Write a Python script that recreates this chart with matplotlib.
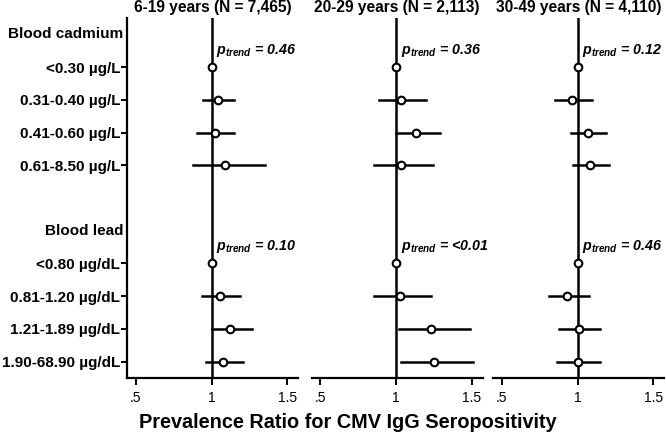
import numpy as np
import matplotlib
matplotlib.use('Agg')
import matplotlib.pyplot as plt

plt.rcParams.update({'font.family': 'Liberation Sans', 'mathtext.fontset': 'custom',
                     'mathtext.it': 'Liberation Sans:italic:bold',
                     'mathtext.rm': 'Liberation Sans:bold'})

### labels
headers = ['Blood cadmium', 'Blood lead']
header_rows = [0, 6]
row_labels = ['<0.30 µg/L', '0.31-0.40 µg/L', '0.41-0.60 µg/L', '0.61-8.50 µg/L',
              '<0.80 µg/dL', '0.81-1.20 µg/dL', '1.21-1.89 µg/dL', '1.90-68.90 µg/dL']
row_pos = [1, 2, 3, 4, 7, 8, 9, 10]

titles = ['6-19 years (N = 7,465)', '20-29 years (N = 2,113)', '30-49 years (N = 4,110)']

### prevalence ratios + 95% CI (reference group has no CI)
pr_6_19 = [1.0, 1.04, 1.02, 1.09, 1.0, 1.055, 1.12, 1.075]
lo_6_19 = [np.nan, 0.945, 0.905, 0.875, np.nan, 0.935, 1.0, 0.963]
hi_6_19 = [np.nan, 1.15, 1.15, 1.35, np.nan, 1.19, 1.27, 1.205]

pr_20_29 = [1.0, 1.033, 1.134, 1.033, 1.0, 1.024, 1.232, 1.25]
lo_20_29 = [np.nan, 0.885, 1.0, 0.856, np.nan, 0.852, 1.022, 1.033]
hi_20_29 = [np.nan, 1.199, 1.293, 1.243, np.nan, 1.228, 1.486, 1.51]

pr_30_49 = [1.0, 0.962, 1.069, 1.084, 1.0, 0.933, 1.007, 1.0]
lo_30_49 = [np.nan, 0.851, 0.958, 0.973, np.nan, 0.81, 0.88, 0.867]
hi_30_49 = [np.nan, 1.096, 1.191, 1.209, np.nan, 1.075, 1.151, 1.151]

p_cadmium = ['0.46', '0.36', '0.12']
p_lead = ['0.10', '<0.01', '0.46']

panels = [(pr_6_19, lo_6_19, hi_6_19), (pr_20_29, lo_20_29, hi_20_29), (pr_30_49, lo_30_49, hi_30_49)]

fig = plt.figure(figsize=(6.66, 4.34), dpi=100)
lefts = [127, 311.5, 493]
for k, (pr, lo, hi) in enumerate(panels):
    ax = fig.add_axes([lefts[k] / 666, 1 - 378 / 434, 171 / 666, 360 / 434])
    ax.set_xlim(0.443, 1.57)
    ax.set_ylim(10.5, -0.5)
    ax.axvline(1, color='black', lw=1.8, zorder=1)
    for i in range(len(pr)):
        y = row_pos[i]
        if not np.isnan(lo[i]):
            ax.plot([lo[i], hi[i]], [y, y], color='black', lw=1.8, zorder=2)
        ax.plot(pr[i], y, 'o', mfc='white', mec='black', mew=1.5, ms=5.5, zorder=3)
    for y, pval in zip(header_rows, [p_cadmium[k], p_lead[k]]):
        ax.text(1.03, y + 0.6, r'$p_{trend}$' + ' = ' + pval, fontsize=10.3,
                fontweight='bold', fontstyle='italic', ha='left', va='baseline')
    ax.set_xticks([0.5, 1, 1.5])
    ax.set_xticklabels(['.5', '1', '1.5'], fontsize=10)
    ax.tick_params(axis='x', length=5, width=1.4, pad=4)
    for s in ['top', 'right']:
        ax.spines[s].set_visible(False)
    ax.spines['bottom'].set_linewidth(1.6)
    ax.set_title(titles[k], fontsize=11.2, fontweight='bold', pad=4)
    if k == 0:
        ax.spines['left'].set_linewidth(1.6)
        ax.set_yticks(row_pos)
        ax.set_yticklabels(row_labels, fontsize=11, fontweight='bold')
        ax.tick_params(axis='y', length=4, width=1.4, pad=1)
        for y, h in zip(header_rows, headers):
            ax.text(-0.02, y, h, transform=ax.get_yaxis_transform(), ha='right', va='center',
                    fontsize=11, fontweight='bold')
    else:
        ax.spines['left'].set_visible(False)
        ax.set_yticks([])

fig.text(0.522, 0.026, 'Prevalence Ratio for CMV IgG Seropositivity', ha='center', va='center',
         fontsize=14.3, fontweight='bold')

fig.savefig('out.png', dpi=100)
